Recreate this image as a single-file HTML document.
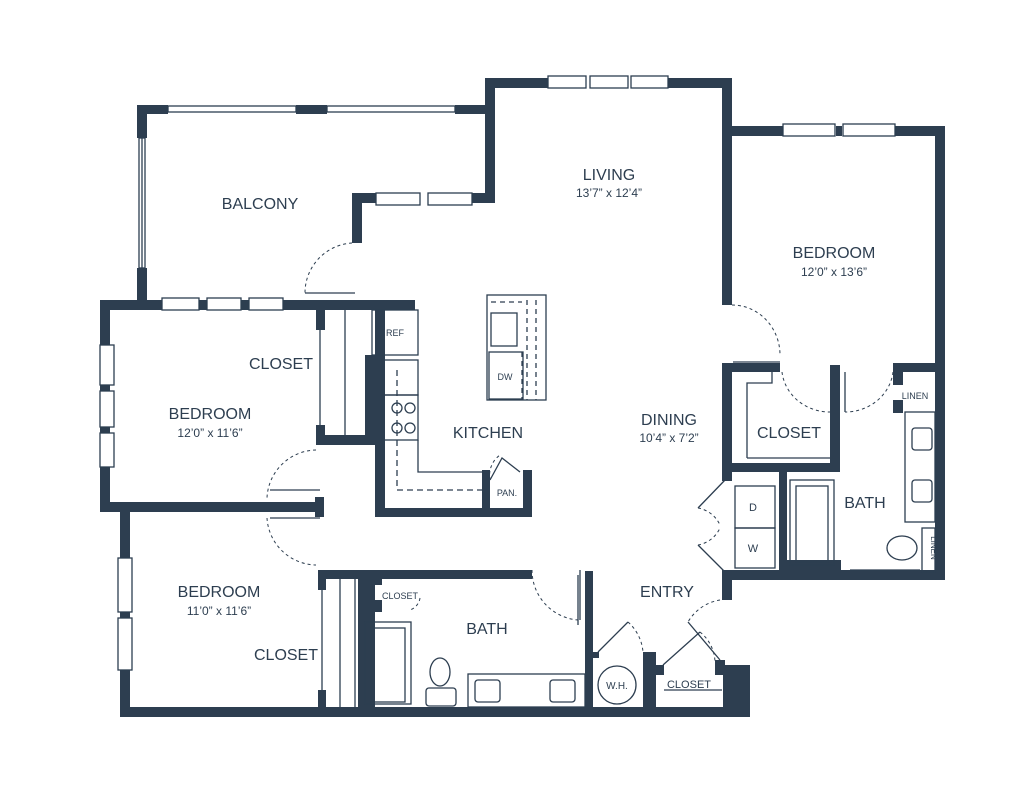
<!DOCTYPE html>
<html><head><meta charset="utf-8"><style>
html,body{margin:0;padding:0;background:#fff;}
svg{display:block}
text{font-family:"Liberation Sans",sans-serif;fill:#2d3e50;text-anchor:middle}
</style></head><body>
<svg width="1024" height="791" viewBox="0 0 1024 791" xmlns="http://www.w3.org/2000/svg">
<g fill="#2d3e50">
<!-- balcony -->
<rect x="137" y="105" width="10" height="33"/><rect x="137" y="268" width="10" height="36"/>
<rect x="137" y="105" width="31" height="9"/><rect x="296" y="105" width="31" height="9"/><rect x="455" y="105" width="40" height="9"/>
<!-- living -->
<rect x="485" y="78" width="10" height="125"/>
<rect x="485" y="78" width="63" height="10"/><rect x="668" y="78" width="64" height="10"/>
<rect x="352" y="193" width="24" height="10"/><rect x="472" y="193" width="23" height="10"/>
<rect x="352" y="193" width="10" height="50"/>
<rect x="722" y="78" width="10" height="227"/>
<!-- right bedroom -->
<rect x="722" y="126" width="61" height="10"/><rect x="895" y="126" width="50" height="10"/><rect x="836" y="126" width="6" height="10"/>
<rect x="935" y="126" width="10" height="454"/>
<rect x="722" y="570" width="223" height="10"/>
<rect x="722" y="363" width="10" height="118"/>
<rect x="722" y="363" width="58" height="9"/>
<rect x="722" y="463" width="118" height="9"/>
<rect x="830" y="365" width="10" height="107"/>
<rect x="893" y="363" width="45" height="9"/>
<rect x="893" y="363" width="10" height="22"/>
<rect x="893" y="400" width="10" height="13"/>
<rect x="779" y="472" width="8" height="100"/>
<rect x="783" y="560" width="58" height="12"/>
<rect x="722" y="570" width="10" height="30"/>
<!-- left top bedroom -->
<rect x="100" y="300" width="62" height="10"/><rect x="199" y="300" width="8" height="10"/><rect x="241" y="300" width="8" height="10"/><rect x="283" y="300" width="132" height="10"/>
<rect x="100" y="300" width="10" height="45"/><rect x="100" y="385" width="10" height="6"/><rect x="100" y="427" width="10" height="6"/><rect x="100" y="467" width="10" height="45"/>
<rect x="100" y="502" width="222" height="10"/>
<rect x="315" y="497" width="9" height="20"/>
<rect x="316" y="310" width="9" height="20"/>
<rect x="316" y="425" width="9" height="20"/>
<rect x="316" y="435" width="60" height="10"/>
<!-- kitchen -->
<rect x="365" y="355" width="18" height="87"/>
<rect x="375" y="300" width="10" height="217"/>
<rect x="375" y="508" width="157" height="9"/>
<rect x="482" y="470" width="8" height="47"/>
<rect x="523" y="470" width="9" height="47"/>
<!-- lower left bedroom -->
<rect x="120" y="512" width="10" height="46"/><rect x="120" y="670" width="10" height="47"/><rect x="120" y="612" width="10" height="6"/>
<rect x="120" y="707" width="630" height="10"/>
<rect x="318" y="570" width="8" height="20"/>
<rect x="318" y="690" width="8" height="18"/>
<rect x="318" y="570" width="214" height="9"/>
<rect x="358" y="575" width="17" height="132"/>
<rect x="375" y="575" width="7" height="10"/><rect x="375" y="600" width="7" height="12"/>
<rect x="585" y="571" width="8" height="136"/>
<rect x="593" y="652" width="6" height="6"/>
<rect x="643" y="652" width="13" height="55"/>
<rect x="656" y="665" width="8" height="10"/>
<rect x="723" y="665" width="27" height="52"/>
<rect x="715" y="660" width="10" height="15"/>
</g>
<g fill="none" stroke="#2d3e50" stroke-width="1.3">
<!-- windows -->
<rect x="139" y="138" width="6" height="130"/>
<line x1="142" y1="138" x2="142" y2="268"/>
<rect x="168" y="106" width="128" height="6"/><rect x="327" y="106" width="128" height="6"/>
<rect x="548" y="76" width="38" height="12"/><rect x="590" y="76" width="38" height="12"/><rect x="631" y="76" width="37" height="12"/>
<rect x="376" y="193" width="44" height="12"/><rect x="428" y="193" width="44" height="12"/>
<rect x="783" y="124" width="52" height="12"/><rect x="843" y="124" width="52" height="12"/>
<rect x="162" y="298" width="37" height="12"/><rect x="207" y="298" width="34" height="12"/><rect x="249" y="298" width="34" height="12"/>
<rect x="100" y="345" width="14" height="40"/><rect x="100" y="391" width="14" height="36"/><rect x="100" y="433" width="14" height="34"/>
<rect x="118" y="558" width="14" height="54"/><rect x="118" y="618" width="14" height="52"/>
<!-- fixtures -->
<rect x="372" y="310" width="46" height="45"/>
<rect x="382" y="360" width="36" height="35"/>
<rect x="382" y="395" width="36" height="45"/>
<circle cx="397" cy="408" r="5"/><circle cx="410" cy="408" r="5"/><circle cx="397" cy="428" r="5"/><circle cx="410" cy="428" r="5"/>
<path d="M418 440 V472 H482"/>
<path d="M397 370 V490 H482" stroke-dasharray="6 4"/>
<rect x="487" y="295" width="59" height="105"/>
<rect x="491" y="313" width="26" height="33"/>
<rect x="489" y="352" width="34" height="47"/>
<path d="M491 302 H522 M527 300 V400 M536 300 V400 M522 352 V400" stroke-dasharray="5 4"/>
<path d="M490 480 L502 458 L520 472"/>
<rect x="330" y="445" width="0" height="0"/>
<line x1="320" y1="330" x2="320" y2="425"/><line x1="345" y1="310" x2="345" y2="435"/>
<line x1="322" y1="590" x2="322" y2="690"/><line x1="340" y1="579" x2="340" y2="707"/><line x1="355" y1="579" x2="355" y2="707"/>
<rect x="365" y="622" width="46" height="82"/><rect x="371" y="628" width="34" height="74"/>
<ellipse cx="440" cy="672" rx="10" ry="14"/><rect x="426" y="688" width="30" height="18" rx="3"/>
<rect x="468" y="674" width="117" height="33"/>
<rect x="475" y="680" width="25" height="22" rx="3"/><rect x="550" y="680" width="25" height="22" rx="3"/>
<line x1="578" y1="575" x2="578" y2="625"/>
<circle cx="617" cy="685" r="19"/>
<line x1="664" y1="690" x2="722" y2="690"/>
<path d="M598 652 L628 622 M663 665 L700 632 M688 622 L720 660 M725 480 L698 508 M725 572 L698 545"/>
<rect x="735" y="486" width="40" height="42"/><rect x="735" y="528" width="40" height="40"/>
<rect x="790" y="480" width="44" height="85"/><rect x="796" y="486" width="32" height="76"/>
<rect x="905" y="412" width="30" height="110"/>
<rect x="912" y="428" width="20" height="22" rx="3"/><rect x="912" y="480" width="20" height="22" rx="3"/>
<ellipse cx="902" cy="548" rx="15" ry="12"/><rect x="922" y="528" width="13" height="44"/>
<rect x="744" y="372" width="86" height="86" stroke="none"/>
<path d="M747 458 V383 H772 V372"/>
<path d="M747 458 H830"/>
<line x1="845" y1="372" x2="845" y2="412"/>
<line x1="733" y1="362" x2="780" y2="362"/>
<path d="M305 293 H355"/>
<path d="M270 490 H320 M270 518 H320"/>
<path d="M580 570 V620"/>
<path d="M440 578 H520"/>
<path d="M850 570 H920"/>
<!-- door swings -->
<g stroke-dasharray="3 3" stroke-width="1">
<path d="M352 243 A50 50 0 0 0 305 293"/>
<path d="M732 305 A48 50 0 0 1 780 355"/>
<path d="M782 372 A48 45 0 0 0 830 412"/>
<path d="M893 372 A48 45 0 0 1 845 412"/>
<path d="M316 450 A50 50 0 0 0 267 498"/>
<path d="M267 518 A50 50 0 0 0 316 565"/>
<path d="M532 570 A50 50 0 0 0 578 620"/>
<path d="M628 622 A45 45 0 0 1 643 652"/>
<path d="M720 600 A45 45 0 0 0 688 622"/>
<path d="M700 632 A40 40 0 0 1 715 662"/>
<path d="M698 508 A30 30 0 0 1 720 525"/>
<path d="M698 545 A30 30 0 0 0 720 528"/>
<path d="M490 480 A25 25 0 0 1 500 455"/>
<path d="M420 598 A15 15 0 0 1 410 610"/>
</g>
</g>
<text x="260" y="209" font-size="16">BALCONY</text>
<text x="609" y="180" font-size="16">LIVING</text>
<text x="609" y="197" font-size="12">13’7” x 12’4”</text>
<text x="834" y="258" font-size="16">BEDROOM</text>
<text x="834" y="276" font-size="12">12’0” x 13’6”</text>
<text x="281" y="369" font-size="16">CLOSET</text>
<text x="210" y="419" font-size="16">BEDROOM</text>
<text x="210" y="437" font-size="12">12’0” x 11’6”</text>
<text x="395" y="336" font-size="9">REF</text>
<text x="505" y="380" font-size="9">DW</text>
<text x="488" y="438" font-size="16">KITCHEN</text>
<text x="507" y="496" font-size="9">PAN.</text>
<text x="669" y="425" font-size="16">DINING</text>
<text x="669" y="442" font-size="12">10’4” x 7’2”</text>
<text x="789" y="438" font-size="16">CLOSET</text>
<text x="915" y="399" font-size="9">LINEN</text>
<text x="865" y="508" font-size="16">BATH</text>
<text x="753" y="511" font-size="11">D</text>
<text x="753" y="552" font-size="11">W</text>
<text x="931" y="548" font-size="8" transform="rotate(90 931 548)">LINEN</text>
<text x="667" y="597" font-size="16">ENTRY</text>
<text x="219" y="597" font-size="16">BEDROOM</text>
<text x="219" y="615" font-size="12">11’0” x 11’6”</text>
<text x="286" y="660" font-size="16">CLOSET</text>
<text x="400" y="599" font-size="9">CLOSET</text>
<text x="487" y="634" font-size="16">BATH</text>
<text x="617" y="689" font-size="10">W.H.</text>
<text x="689" y="688" font-size="11">CLOSET</text>
</svg>
</body></html>
